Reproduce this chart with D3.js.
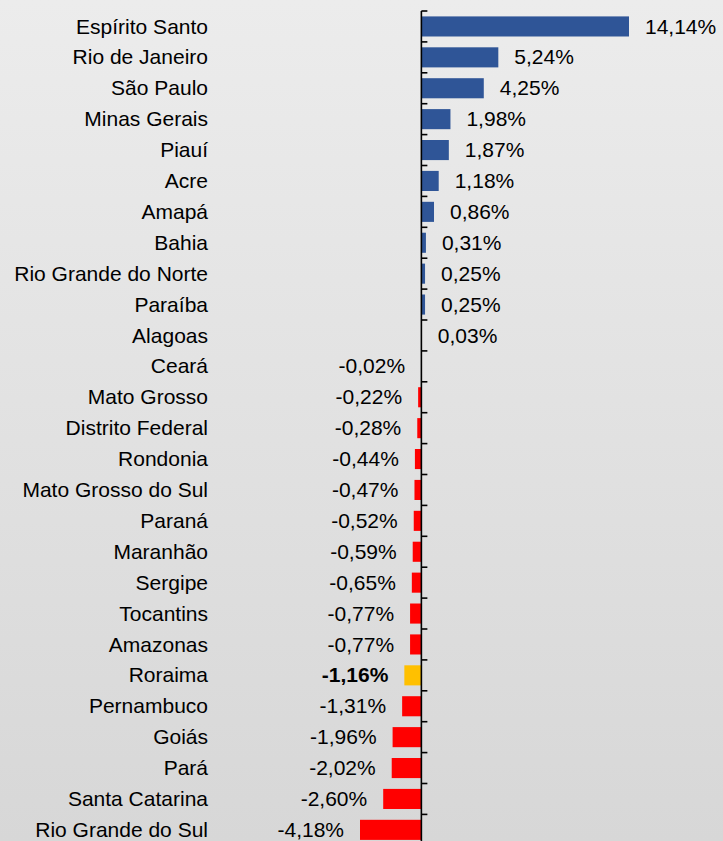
<!DOCTYPE html>
<html><head><meta charset="utf-8">
<script src="https://cdn.jsdelivr.net/npm/d3@7"></script>
<style>html,body{margin:0;padding:0;background:#e2e2e2;}svg{display:block;}</style>
</head><body>
<script>
const categories = ["Espírito Santo","Rio de Janeiro","São Paulo","Minas Gerais","Piauí","Acre","Amapá","Bahia","Rio Grande do Norte","Paraíba","Alagoas","Ceará","Mato Grosso","Distrito Federal","Rondonia","Mato Grosso do Sul","Paraná","Maranhão","Sergipe","Tocantins","Amazonas","Roraima","Pernambuco","Goiás","Pará","Santa Catarina","Rio Grande do Sul"];
const values = [14.14,5.24,4.25,1.98,1.87,1.18,0.86,0.31,0.25,0.25,0.03,-0.02,-0.22,-0.28,-0.44,-0.47,-0.52,-0.59,-0.65,-0.77,-0.77,-1.16,-1.31,-1.96,-2.02,-2.60,-4.18];
const highlight = ["Roraima"];

const W = 723, H = 841;
const svg = d3.select("body").append("svg").attr("width", W).attr("height", H);
const defs = svg.append("defs");
const grad = defs.append("linearGradient").attr("id","bg").attr("x1",0).attr("y1",0).attr("x2",0).attr("y2",1);
grad.append("stop").attr("offset","0%").attr("stop-color","#ececec");
grad.append("stop").attr("offset","100%").attr("stop-color","#d7d7d7");
svg.append("rect").attr("width",W).attr("height",H).attr("fill","url(#bg)");

const data = categories.map((c,i)=>({c, v: values[i]}));
const x = d3.scaleLinear().domain([-4.18, 14.14]).range([360, 629]);
const y = d3.scaleBand().domain(categories).range([11, 11 + 30.9*categories.length]).paddingInner(0.35).paddingOuter(0.175);
const font = "'Liberation Sans', Arial, sans-serif";
const fs = 21;
const fmt = v => d3.format(".2f")(v).replace(".", ",").replace("−","-") + "%";

const color = d => highlight.includes(d.c) ? "#FFC000" : (d.v >= 0 ? "#2F5597" : "#FF0000");

svg.append("g").selectAll("rect").data(data).join("rect")
  .attr("x", d => x(Math.min(0, d.v)))
  .attr("y", d => y(d.c))
  .attr("width", d => Math.abs(x(d.v) - x(0)))
  .attr("height", y.bandwidth())
  .attr("fill", color);

// category labels
svg.append("g").selectAll("text").data(data).join("text")
  .attr("x", 208).attr("y", d => y(d.c) + y.bandwidth()/2)
  .attr("dy", "0.34em").attr("text-anchor","end")
  .attr("font-family", font).attr("font-size", fs).attr("fill","#000")
  .text(d => d.c);

// value labels
svg.append("g").selectAll("text").data(data).join("text")
  .attr("x", d => d.v >= 0 ? x(d.v) + 16 : x(d.v) - 16)
  .attr("y", d => y(d.c) + y.bandwidth()/2)
  .attr("dy", "0.34em").attr("text-anchor", d => d.v >= 0 ? "start" : "end")
  .attr("font-family", font).attr("font-size", fs).attr("fill","#000")
  .attr("font-weight", d => highlight.includes(d.c) ? "bold" : "normal")
  .text(d => fmt(d.v));

// axis at zero with ticks between categories
const ax = svg.append("g");
const step = y.step();
const y0 = y.range()[0];
ax.append("line").attr("x1", x(0)).attr("x2", x(0)).attr("y1", y0).attr("y2", H)
  .attr("stroke","#000").attr("stroke-width",1.6);
const tickYs = d3.range(categories.length + 1).map(i => y0 + i*step);
ax.selectAll("line.t").data(tickYs).join("line").attr("class","t")
  .attr("x1", x(0)).attr("x2", x(0) + 6).attr("y1", d => d).attr("y2", d => d)
  .attr("stroke","#000").attr("stroke-width",1.6);
</script>
</body></html>
